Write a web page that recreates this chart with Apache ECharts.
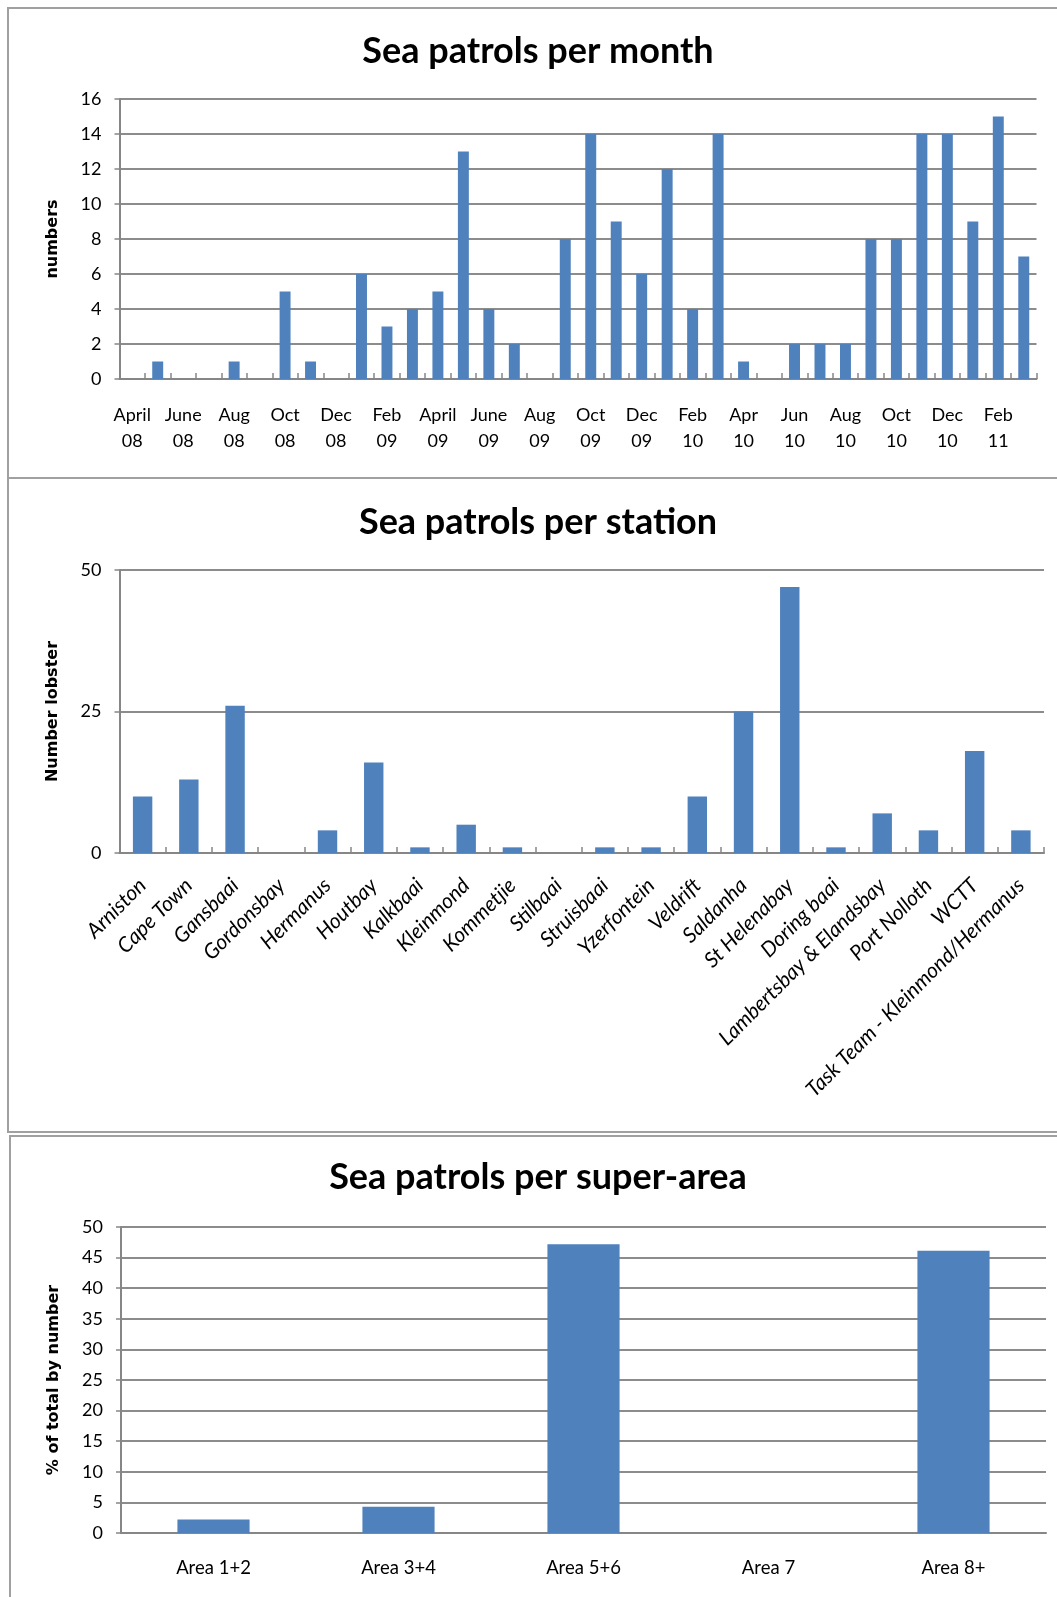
<!DOCTYPE html>
<html>
<head>
<meta charset="utf-8">
<script src="https://cdn.jsdelivr.net/npm/echarts@6/dist/echarts.min.js"></script>
<style>
  html, body { margin: 0; padding: 0; background: #ffffff; }
  #chart { width: 1057px; height: 1597px; }
</style>
</head>
<body>
<div id="chart"></div>
<script>
// ---- Chart 1: Sea patrols per month ----
const monthCategories = ["April\n08","May\n08","June\n08","July\n08","Aug\n08","Sep\n08","Oct\n08","Nov\n08","Dec\n08",
  "Jan\n09","Feb\n09","Mar\n09","April\n09","May\n09","June\n09","July\n09","Aug\n09","Sep\n09","Oct\n09","Nov\n09","Dec\n09",
  "Jan\n10","Feb\n10","Mar\n10","Apr\n10","May\n10","Jun\n10","Jul\n10","Aug\n10","Sep\n10","Oct\n10","Nov\n10","Dec\n10",
  "Jan\n11","Feb\n11","Mar\n11"];
const monthValues = [0,1,0,0,1,0,5,1,0,6,3,4,5,13,4,2,0,8,14,9,6,12,4,14,1,0,2,2,2,8,8,14,14,9,15,7];
const monthTicks = [0,2,4,6,8,10,12,14,16];

// ---- Chart 2: Sea patrols per station ----
const stationCategories = ["Arniston","Cape Town","Gansbaai","Gordonsbay","Hermanus","Houtbay","Kalkbaai","Kleinmond",
  "Kommetjie","Stilbaai","Struisbaai","Yzerfontein","Veldrift","Saldanha","St Helenabay","Doring baai",
  "Lambertsbay & Elandsbay","Port Nolloth","WCTT","Task Team - Kleinmond/Hermanus"];
const stationValues = [10,13,26,0,4,16,1,5,1,0,1,1,10,25,47,1,7,4,18,4];
const stationTicks = [0,25,50];

// ---- Chart 3: Sea patrols per super-area ----
const areaCategories = ["Area 1+2","Area 3+4","Area 5+6","Area 7","Area 8+"];
const areaValues = [2.2,4.3,47.2,0,46.1];
const areaTicks = [0,5,10,15,20,25,30,35,40,45,50];

const BAR = '#4F81BD';
const GRID = '#8c8c8c';
const AXIS = '#868686';
const LABEL_FONT = 'Lato, "Open Sans", sans-serif';
const NAME_FONT = '"DejaVu Sans", Verdana, sans-serif';

function yAxisFor(gridIndex, ticks, name, labelSize) {
  return {
    type: 'value', gridIndex: gridIndex,
    min: ticks[0], max: ticks[ticks.length - 1], interval: ticks[1] - ticks[0],
    name: name, nameLocation: 'middle', nameRotate: 90, nameGap: 59,
    nameTextStyle: { fontFamily: NAME_FONT, fontWeight: 'bold', fontSize: 16, color: '#000' },
    axisLine: { show: true, lineStyle: { color: AXIS, width: 2 } },
    axisTick: { show: true, inside: false, length: 5, lineStyle: { color: AXIS, width: 1.5 } },
    axisLabel: { margin: 18, color: '#000', fontFamily: LABEL_FONT, fontSize: labelSize },
    splitLine: { show: true, lineStyle: { color: GRID, width: 2 } }
  };
}

const TITLE_STYLE = { fontFamily: LABEL_FONT, fontWeight: 'bold', fontSize: 36, color: '#000' };

const option = {
  animation: false,
  backgroundColor: '#ffffff',
  graphic: [
    { type: 'rect', shape: { x: 8, y: 8, width: 1100, height: 470 }, style: { fill: 'none', stroke: '#a0a0a0', lineWidth: 2 } },
    { type: 'rect', shape: { x: 8, y: 478, width: 1100, height: 654 }, style: { fill: 'none', stroke: '#a0a0a0', lineWidth: 2 } },
    { type: 'rect', shape: { x: 10, y: 1136, width: 1100, height: 520 }, style: { fill: 'none', stroke: '#a0a0a0', lineWidth: 2 } }
  ],
  title: [
    { text: 'Sea patrols per month', left: 538, textAlign: 'center', top: 33, padding: 0, textStyle: TITLE_STYLE },
    { text: 'Sea patrols per station', left: 538, textAlign: 'center', top: 504, padding: 0, textStyle: TITLE_STYLE },
    { text: 'Sea patrols per super-area', left: 538, textAlign: 'center', top: 1159, padding: 0, textStyle: TITLE_STYLE }
  ],
  grid: [
    { left: 119.5, top: 99, width: 917, height: 280, outerBoundsMode: 'none', containLabel: false },
    { left: 119.5, top: 570, width: 924.5, height: 283, outerBoundsMode: 'none', containLabel: false },
    { left: 121, top: 1227, width: 925, height: 306, outerBoundsMode: 'none', containLabel: false }
  ],
  xAxis: [
    { type: 'category', gridIndex: 0, data: monthCategories,
      axisLine: { show: true, lineStyle: { color: AXIS, width: 2 } },
      axisTick: { show: true, inside: true, length: 6, interval: 0, lineStyle: { color: AXIS, width: 1.5 } },
      axisLabel: { interval: 1, margin: 23, lineHeight: 26, color: '#000', fontFamily: LABEL_FONT, fontSize: 18 } },
    { type: 'category', gridIndex: 1, data: stationCategories,
      axisLine: { show: true, lineStyle: { color: AXIS, width: 2 } },
      axisTick: { show: true, inside: true, length: 6, interval: 0, lineStyle: { color: AXIS, width: 1.5 } },
      axisLabel: { interval: 0, rotate: 45, margin: 29, color: '#000', fontFamily: LABEL_FONT, fontStyle: 'italic', fontSize: 21 } },
    { type: 'category', gridIndex: 2, data: areaCategories,
      axisLine: { show: true, lineStyle: { color: AXIS, width: 2 } },
      axisTick: { show: false },
      axisLabel: { interval: 0, margin: 26, color: '#000', fontFamily: LABEL_FONT, fontSize: 18.5 } }
  ],
  yAxis: [
    yAxisFor(0, monthTicks, 'numbers', 18),
    yAxisFor(1, stationTicks, 'Number lobster', 18),
    yAxisFor(2, areaTicks, '% of total by number', 18)
  ],
  series: [
    { type: 'bar', xAxisIndex: 0, yAxisIndex: 0, data: monthValues, barWidth: '43%', itemStyle: { color: BAR } },
    { type: 'bar', xAxisIndex: 1, yAxisIndex: 1, data: stationValues, barWidth: '42%', itemStyle: { color: BAR } },
    { type: 'bar', xAxisIndex: 2, yAxisIndex: 2, data: areaValues, barWidth: '39%', itemStyle: { color: BAR } }
  ]
};

const chart = echarts.init(document.getElementById('chart'), null, { renderer: 'canvas' });
chart.setOption(option);
</script>
</body>
</html>
